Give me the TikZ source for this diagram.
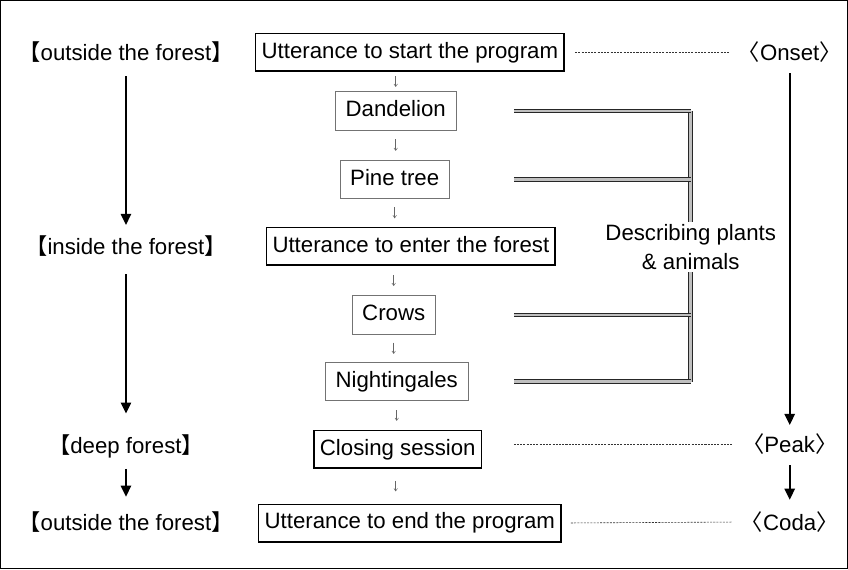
\documentclass[tikz,border=0pt]{standalone}
\usepackage{fontspec}
\setmainfont{Liberation Sans}
\newfontfamily\cjk{Noto Sans CJK JP}
\usetikzlibrary{arrows.meta}

\newcommand\place[1]{{\cjk 【}#1{\cjk 】}}
\newcommand\phase[1]{{\cjk 〈}#1{\cjk 〉}}

\tikzset{
  mainbox/.style={draw,line width=1.6pt,minimum height=37pt,inner xsep=6pt,inner ysep=3pt,text height=16pt,text depth=4.5pt},
  subbox/.style={draw=black!55,line width=0.7pt,minimum height=38pt,inner xsep=10pt,inner ysep=3pt,text height=16pt,text depth=4.5pt},
  stage/.style={inner sep=2pt},
  tick/.style={draw=black!60,line width=0.5pt,-{Straight Barb[length=2.5pt,width=3.5pt]},shorten <=#1,shorten >=#1},
  flow/.style={line width=2.2pt,-{Triangle[length=11pt,width=10pt]}},
  guide/.style={draw=black!80,line width=0.6pt,dash pattern=on 2pt off 1.2pt},
  twin/.style={draw=black!85,line width=0.9pt,double=black!25,double distance=2.6pt},
}

\begin{document}
\begin{tikzpicture}[x=1pt,y=-1pt,font=\fontsize{22}{26}\selectfont]
\draw[line width=1.4pt] (5,4) rectangle (843,566);

% middle column
\node[mainbox] (start) at (410,55) {Utterance to start the program};
\node[subbox] (dand) at (396,113) {Dandelion};
\node[subbox] (pine) at (395,181) {Pine tree};
\node[mainbox] (enter) at (411,247) {Utterance to enter the forest};
\node[subbox] (crows) at (394,315) {Crows};
\node[subbox] (night) at (397,381) {Nightingales};
\node[mainbox] (closing) at (398,448) {Closing session};
\node[mainbox] (endp) at (410,521) {Utterance to end the program};

\draw[tick=4.3pt] (start.south -| dand) -- (dand.north);
\draw[tick=9pt] (dand) -- (dand |- pine.north);
\draw[tick=8.3pt] (pine) -- (pine |- enter.north);
\draw[tick=9.2pt] (enter.south -| crows) -- (crows.north);
\draw[tick=8pt] (crows) -- (crows |- night.north);
\draw[tick=8.8pt] (night) -- (night |- closing.north);
\draw[tick=12pt] (closing.south -| 396,0) -- (endp.north -| 396,0);

% left column
\node[stage] (out1) at (129,55) {\place{outside the forest}};
\node[stage] (in1) at (129,247) {\place{inside the forest}};
\node[stage] (deep) at (129,445) {\place{deep forest}};
\node[stage] (out2) at (129,520) {\place{outside the forest}};

\draw[flow,shorten <=11.5pt,shorten >=8.5pt] (out1) -- (in1);
\draw[flow,shorten <=15.5pt,shorten >=18.5pt] (in1) -- (deep);
\draw[flow,shorten <=8.5pt,shorten >=12.5pt] (deep) -- (out2);

% right column
\node[stage] (onset) at (786,55) {\phase{Onset}};
\node[stage] (peak) at (786,443) {\phase{Peak}};
\node[stage] (coda) at (786,520) {\phase{Coda}};

\draw[flow,shorten <=8.5pt,shorten >=6.5pt] (onset) -- (peak);
\draw[flow,shorten <=8.5pt,shorten >=9.5pt] (peak) -- (coda);

\draw[guide,shorten <=10pt,shorten >=6pt] (start.east) -- (onset.west);
\draw[guide,shorten <=31pt,shorten >=7pt] (closing.east |- peak) -- (peak.west);
\draw[guide,shorten <=9pt,shorten >=7pt] (endp.east) -- (coda.west);

% plants and animals bracket
\coordinate (lx) at (513,0);
\coordinate (bus) at (688,0);
\draw[twin] (bus |- dand) -- (bus |- night);
\foreach \n in {dand,pine,crows,night}
  \draw[twin] (lx |- \n) -- (bus |- \n);
\node[fill=white,align=center,inner xsep=1pt,inner ysep=2pt,font=\fontsize{22}{29}\selectfont] (plants) at (688,248) {Describing plants\\\& animals};
\end{tikzpicture}
\end{document}
